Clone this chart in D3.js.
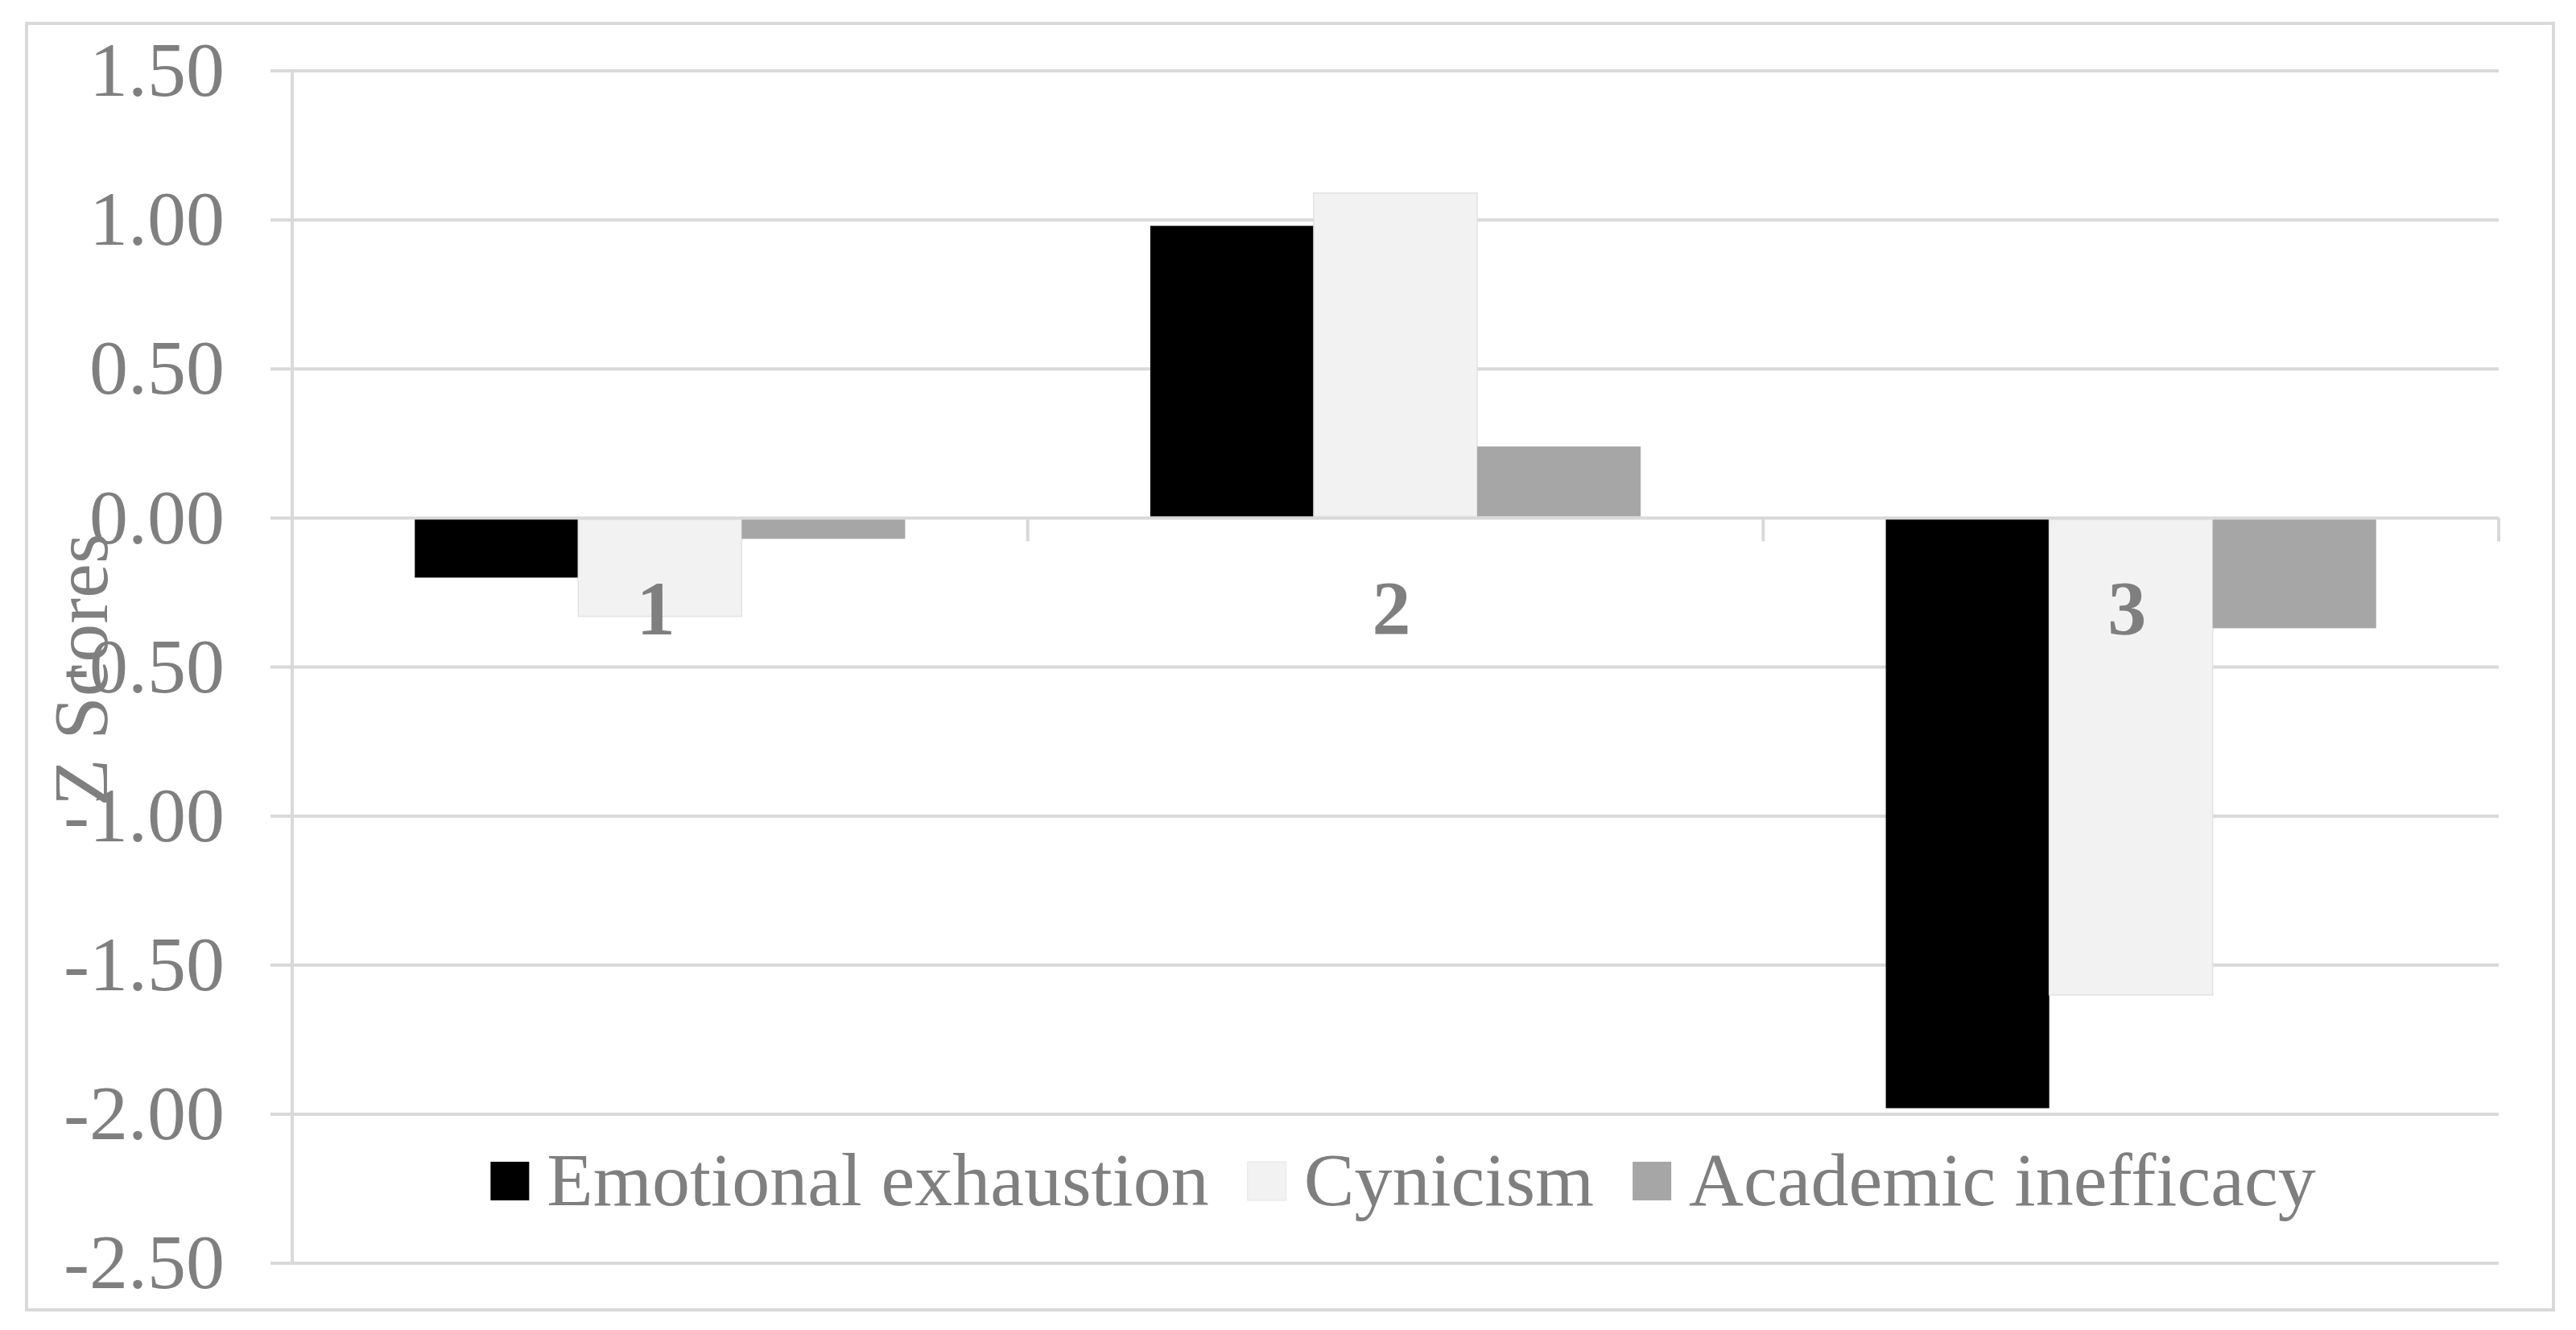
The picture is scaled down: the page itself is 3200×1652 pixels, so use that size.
<!DOCTYPE html>
<html>
<head>
<meta charset="utf-8">
<script src="https://cdn.jsdelivr.net/npm/d3@7"></script>
<style>
  html, body { margin: 0; padding: 0; background: #ffffff; }
  svg { display: block; }
</style>
</head>
<body>
<script>
// ---- Data ----
const categories = ["1", "2", "3"];
const seriesNames = ["Emotional exhaustion", "Cynicism", "Academic inefficacy"];
const emotionalExhaustion = [-0.20, 0.98, -1.98];
const cynicism = [-0.33, 1.09, -1.60];
const academicInefficacy = [-0.07, 0.24, -0.37];
const yTickValues = [1.5, 1.0, 0.5, 0.0, -0.5, -1.0, -1.5, -2.0, -2.5];
const yTitle = "Z Scores";

const seriesValues = [emotionalExhaustion, cynicism, academicInefficacy];
const seriesColors = ["#000000", "#f2f2f2", "#a6a6a6"];

// ---- Layout ----
const W = 3200, H = 1652;
const plotLeft = 363, plotRight = 3104, plotTop = 88, plotBottom = 1569;
const textColor = "#7f7f7f";
const gridColor = "#d9d9d9";
const fontFamily = "'Liberation Serif', 'Times New Roman', serif";
const fontSize = 96;

const svg = d3.select("body").append("svg")
  .attr("width", W).attr("height", H)
  .style("font-family", fontFamily);

svg.append("rect").attr("width", W).attr("height", H).attr("fill", "#ffffff");

// outer frame
svg.append("rect")
  .attr("x", 33).attr("y", 29).attr("width", 3139).attr("height", 1598)
  .attr("fill", "none").attr("stroke", gridColor).attr("stroke-width", 4);

const y = d3.scaleLinear().domain([-2.5, 1.5]).range([plotBottom, plotTop]);
const x0 = d3.scaleBand().domain(categories).range([plotLeft, plotRight]).paddingInner(0).paddingOuter(0);
const x1 = d3.scaleBand().domain(seriesNames).range([0, x0.bandwidth()]).paddingInner(0).paddingOuter(0.75);

const locale = d3.formatLocale({decimal: ".", thousands: ",", grouping: [3], currency: ["$", ""], minus: "-"});
const fmt = locale.format(".2f");

// gridlines
svg.append("g").selectAll("line").data(yTickValues).join("line")
  .attr("x1", plotLeft - 27).attr("x2", plotRight)
  .attr("y1", d => y(d)).attr("y2", d => y(d))
  .attr("stroke", gridColor).attr("stroke-width", 4);

// left axis line
svg.append("line")
  .attr("x1", plotLeft).attr("x2", plotLeft)
  .attr("y1", y(1.5)).attr("y2", y(-2.5))
  .attr("stroke", gridColor).attr("stroke-width", 4);

// category tick marks on zero line
svg.append("g").selectAll("line").data(categories).join("line")
  .attr("x1", d => x0(d) + x0.bandwidth()).attr("x2", d => x0(d) + x0.bandwidth())
  .attr("y1", y(0)).attr("y2", y(0) + 29)
  .attr("stroke", gridColor).attr("stroke-width", 4);

// y axis labels
const yAxis = d3.axisLeft(y).tickValues(yTickValues).tickFormat(fmt).tickSize(0).tickPadding(84);
const gy = svg.append("g").attr("transform", `translate(${plotLeft},0)`).call(yAxis);
gy.select(".domain").remove();
gy.selectAll("text").attr("fill", textColor).style("font-size", fontSize + "px").style("font-family", fontFamily);

// bars
const barData = [];
categories.forEach((c, i) => {
  seriesNames.forEach((s, j) => {
    barData.push({cat: c, series: s, value: seriesValues[j][i], color: seriesColors[j]});
  });
});
svg.append("g").selectAll("rect").data(barData).join("rect")
  .attr("x", d => x0(d.cat) + x1(d.series))
  .attr("width", x1.bandwidth())
  .attr("y", d => y(Math.max(0, d.value)) + (d.value < 0 ? 2 : 0))
  .attr("height", d => Math.abs(y(d.value) - y(0)) - 2)
  .attr("fill", d => d.color)
  .attr("stroke", d => d.color === "#f2f2f2" ? "#e2e2e2" : "none")
  .attr("stroke-width", 1.5);

// category labels
svg.append("g").selectAll("text").data(categories).join("text")
  .attr("x", d => x0(d) + x0.bandwidth() / 2)
  .attr("dx", -5)
  .attr("y", 788)
  .attr("text-anchor", "middle")
  .attr("fill", textColor)
  .style("font-size", fontSize + "px")
  .style("font-weight", "bold")
  .text(d => d);

// y title
svg.append("text")
  .attr("transform", `translate(133, 832) rotate(-90)`)
  .attr("text-anchor", "middle")
  .attr("fill", textColor)
  .style("font-size", fontSize + "px")
  .text(yTitle);

// legend
const legend = svg.append("g");
const boxSize = 48, boxGap = 22, itemGap = 48, legendFont = 94;
let cursor = 0;
seriesNames.forEach((name, i) => {
  const g = legend.append("g");
  g.append("rect").attr("x", 0).attr("y", 1443).attr("width", boxSize).attr("height", boxSize)
    .attr("fill", seriesColors[i])
    .attr("stroke", seriesColors[i] === "#f2f2f2" ? "#e6e6e6" : "none").attr("stroke-width", 1);
  const t = g.append("text").attr("x", boxSize + boxGap).attr("y", 1497)
    .attr("fill", textColor).style("font-size", legendFont + "px").text(name);
  const w = t.node().getComputedTextLength();
  g.attr("transform", `translate(${cursor},0)`);
  cursor += boxSize + boxGap + w + itemGap;
});
const totalW = cursor - itemGap;
legend.attr("transform", `translate(${1743 - totalW / 2},0)`);
</script>
</body>
</html>
